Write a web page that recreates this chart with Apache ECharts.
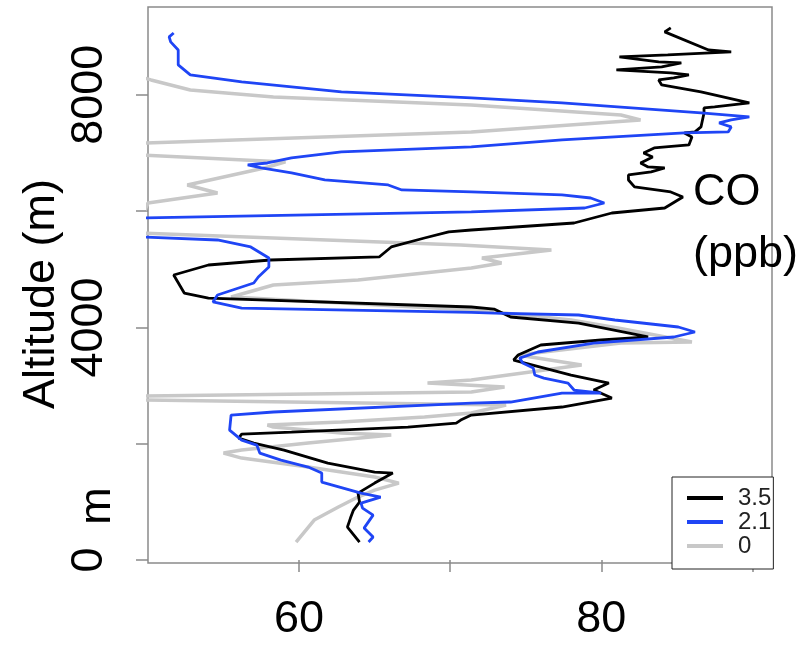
<!DOCTYPE html>
<html>
<head>
<meta charset="utf-8">
<script src="https://cdn.jsdelivr.net/npm/echarts@6/dist/echarts.min.js"></script>
<style>
html,body{margin:0;padding:0;background:#fff;}
#chart{width:806px;height:647px;}
</style>
</head>
<body>
<div id="chart"></div>
<script>
// ---- data (CO in ppb, altitude in m), ordered from surface upward ----
var co35 = [64.0,63.2,63.4,63.6,64.0,63.9,65.0,66.2,65.0,61.9,59.0,57.0,56.0,56.2,59.5,67.2,70.4,70.7,71.4,77.4,80.7,79.5,80.5,78.0,74.2,74.5,76.0,80.0,83.1,78.5,74.0,72.9,71.4,54.0,52.4,51.7,54.0,58.1,65.3,66.1,68.3,69.9,71.4,78.2,80.7,84.2,85.4,84.6,82.2,81.8,81.8,83.3,84.2,83.1,82.6,83.4,82.8,83.5,85.8,86.0,85.5,86.2,86.6,86.8,86.8,87.5,89.8,86.6,84.0,83.8,84.8,85.8,84.6,81.0,84.0,85.3,83.8,81.2,84.4,88.6,87.1,84.2,84.6];
var alt35 = [310,568,722,860,998,1152,1324,1496,1514,1668,1892,2012,2098,2167,2202,2288,2356,2408,2494,2632,2786,2924,3044,3182,3440,3526,3698,3784,3836,4076,4180,4317,4352,4506,4592,4902,5074,5160,5212,5384,5538,5642,5676,5796,5968,6054,6244,6330,6416,6536,6622,6674,6742,6760,6828,6932,7000,7086,7138,7276,7344,7362,7448,7688,7774,7792,7860,8050,8170,8256,8290,8342,8376,8428,8480,8548,8566,8652,8686,8738,8772,9082,9150];

var co21 = [64.6,64.9,64.3,64.9,64.2,64.1,65.4,64.1,61.5,61.5,60.6,58.8,57.4,57.2,56.2,55.4,55.5,58.3,71.4,74.0,77.4,80.0,78.2,77.8,76.2,75.6,75.5,74.8,74.6,75.8,79.5,84.8,86.2,85.1,80.9,78.5,72.9,71.4,56.2,54.3,54.6,57.0,57.3,58.0,58.0,56.8,54.6,49.6,49.5,71.4,78.9,80.2,79.3,77.4,71.4,66.8,65.9,61.7,59.5,57.5,56.6,57.9,59.5,62.8,71.4,77.4,85.5,88.4,88.6,87.8,88.6,89.8,86.6,77.4,71.4,62.8,56.2,52.8,52.0,52.0,51.5,51.4,51.7];
var alt21 = [310,396,550,774,894,980,1084,1152,1342,1496,1600,1720,1840,1978,2064,2236,2494,2546,2700,2718,2872,2872,2924,3044,3130,3182,3302,3388,3474,3578,3732,3836,3922,4008,4128,4214,4248,4260,4334,4438,4558,4764,4868,5040,5194,5384,5504,5556,5882,5986,6054,6140,6226,6278,6330,6364,6450,6536,6656,6742,6794,6828,6914,7018,7104,7224,7344,7362,7448,7516,7568,7620,7688,7860,7946,8050,8222,8342,8514,8772,8910,8996,9064];

var co0 = [59.8,61.0,62.6,63.9,65.0,66.6,65.0,62.8,60.6,56.2,55.0,56.2,60.6,66.1,62.8,58.3,57.9,62.8,68.3,71.4,73.7,49.5,49.5,71.4,73.6,68.5,71.4,78.7,74.5,81.3,86.0,81.1,78.0,72.9,71.4,55.5,58.3,63.9,71.4,73.4,72.1,76.7,70.7,49.5,49.5,50.0,54.6,52.6,57.7,59.1,49.6,49.4,49.8,71.4,82.6,81.3,71.4,58.3,52.8,50.2,49.5];
var alt0 = [310,688,912,1084,1204,1324,1428,1514,1600,1754,1840,1892,2012,2150,2184,2288,2322,2374,2460,2528,2666,2752,2820,2890,2976,3044,3096,3354,3526,3732,3750,3990,4128,4266,4300,4524,4730,4816,5022,5108,5194,5332,5418,5624,5848,6140,6312,6450,6742,6846,6966,7086,7172,7362,7568,7654,7826,7964,8084,8256,8308];

var seriesNames = ['3.5', '2.1', '0'];
var xTicks = [60, 70, 80, 90];
var xLabels = [60, 80];
var yTicks = [0, 2000, 4000, 6000, 8000];
var yLabels = [0, 4000, 8000];

function zip(a, b) { return a.map(function (v, i) { return [v, b[i]]; }); }

var FONT = "'Liberation Sans', Arial, sans-serif";
var chart = echarts.init(document.getElementById('chart'), null, {renderer: 'canvas'});

chart.setOption({
  animation: false,
  backgroundColor: '#ffffff',
  grid: {
    left: 148, right: 34, top: 7, bottom: 84,
    show: true, borderColor: '#8a8a8a', borderWidth: 1.5, backgroundColor: 'transparent'
  },
  xAxis: {
    type: 'value', min: 50, max: 91.3,
    axisLine: {show: false},
    splitLine: {show: false},
    axisTick: {show: true, length: 12, customValues: xTicks, lineStyle: {color: '#8a8a8a', width: 1.5}},
    axisLabel: {show: true, customValues: xLabels, fontSize: 45, color: '#000', fontFamily: FONT, margin: 34,
                formatter: function (v) { return String(v); }}
  },
  yAxis: {
    type: 'value', min: -50, max: 9510,
    axisLine: {show: false},
    splitLine: {show: false},
    axisTick: {show: true, length: 12, customValues: yTicks, lineStyle: {color: '#8a8a8a', width: 1.5}},
    axisLabel: {show: true, customValues: yLabels, fontSize: 45, color: '#000', fontFamily: FONT, rotate: 90, margin: 36,
                formatter: function (v) { return String(v); }}
  },
  legend: {
    data: seriesNames,
    orient: 'vertical',
    left: 672, top: 477,
    padding: [9, 2, 11, 15],
    itemGap: 0,
    itemWidth: 36, itemHeight: 4,
    icon: 'rect',
    borderColor: '#222', borderWidth: 1,
    backgroundColor: '#fff',
    textStyle: {fontSize: 24, lineHeight: 22, color: '#222', fontFamily: FONT, padding: [0, 0, 0, 10]}
  },
  graphic: [
    {type: 'text', x: 42, y: 294, rotation: Math.PI / 2,
     style: {text: 'Altitude (m)', fontSize: 45, fontFamily: FONT, fill: '#000', align: 'center', verticalAlign: 'middle'}},
    {type: 'text', x: 98, y: 506, rotation: Math.PI / 2,
     style: {text: 'm', fontSize: 45, fontFamily: FONT, fill: '#000', align: 'center', verticalAlign: 'middle'}},
    {type: 'text', x: 693, y: 193,
     style: {text: 'CO', fontSize: 45, fontFamily: FONT, fill: '#000', align: 'left', verticalAlign: 'middle'}},
    {type: 'text', x: 693, y: 255,
     style: {text: '(ppb)', fontSize: 45, fontFamily: FONT, fill: '#000', align: 'left', verticalAlign: 'middle'}}
  ],
  series: [
    {name: '0', type: 'line', data: zip(co0, alt0), showSymbol: false, symbol: 'none', clip: true,
     lineStyle: {color: '#c8c8c8', width: 3.5}, itemStyle: {color: '#c8c8c8'}, z: 2},
    {name: '3.5', type: 'line', data: zip(co35, alt35), showSymbol: false, symbol: 'none', clip: true,
     lineStyle: {color: '#000000', width: 2.8}, itemStyle: {color: '#000000'}, z: 3},
    {name: '2.1', type: 'line', data: zip(co21, alt21), showSymbol: false, symbol: 'none', clip: true,
     lineStyle: {color: '#1f45f5', width: 2.8}, itemStyle: {color: '#1f45f5'}, z: 4}
  ]
});
</script>
</body>
</html>
